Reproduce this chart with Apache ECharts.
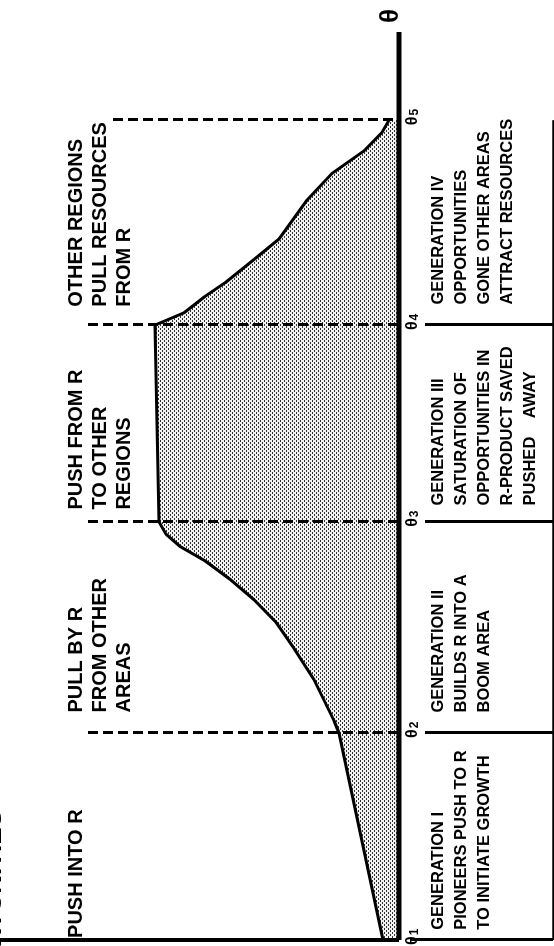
<!DOCTYPE html>
<html>
<head>
<meta charset="utf-8">
<script src="https://cdn.jsdelivr.net/npm/echarts@6/dist/echarts.min.js"></script>
<style>
html, body { margin: 0; padding: 0; background: #fff; overflow: hidden; }
/* the figure is drawn landscape and turned a quarter turn, like the printed page */
#frame {
    position: absolute; left: 0; top: 0;
    width: 946px; height: 554px;
    transform-origin: 0 0;
    transform: translate(0, 946px) rotate(-90deg);
}
</style>
</head>
<body>
<div id="frame"></div>
<script>
// time marks theta 1..5 along the axis
var thetaNames = ['1', '2', '3', '4', '5'];
var thetaPos = [0, 1.01, 2.04, 3.0, 4.0];
var timeEnd = 4.43;

// outline of the shaded area (time, amount)
var curveT = [0, 1.01, 1.07, 1.27, 1.43, 1.55, 1.66, 1.76, 1.85, 1.92, 1.98, 2.04,
    3.0, 3.06, 3.14, 3.21, 3.32, 3.42, 3.61, 3.74, 3.85, 3.94, 4.0];
var curveV = [16, 60, 65, 85, 106, 123, 145, 169, 194, 219, 233, 240,
    244, 215, 194, 173, 145, 120, 92, 67, 35, 17, 10];

var forceLabels = [
    'PUSH INTO R',
    'PULL BY R\nFROM OTHER\nAREAS',
    'PUSH FROM R\nTO OTHER\nREGIONS',
    'OTHER REGIONS\nPULL RESOURCES\nFROM R'
];
var generationNotes = [
    'GENERATION I\nPIONEERS PUSH TO R\nTO INITIATE GROWTH',
    'GENERATION II\nBUILDS R INTO A\nBOOM AREA',
    'GENERATION III\nSATURATION OF\nOPPORTUNITIES IN\nR-PRODUCT SAVED\nPUSHED    AWAY',
    'GENERATION IV\nOPPORTUNITIES\nGONE OTHER AREAS\nATTRACT RESOURCES'
];

// stipple fill
var dots = document.createElement('canvas');
dots.width = 4;
dots.height = 4;
var dctx = dots.getContext('2d');
dctx.fillStyle = '#f2f2f2';
dctx.fillRect(0, 0, 4, 4);
dctx.fillStyle = '#333';
dctx.fillRect(0, 0, 2, 1);
dctx.fillRect(2, 2, 2, 1);
var dotsUrl = dots.toDataURL();

var lines = [];
// base line at theta 1
lines.push([{ coord: [0, 0], lineStyle: { type: 'solid', width: 4 } }, { coord: [0, 399] }]);
for (var i = 1; i < thetaPos.length; i++) {
    lines.push([
        { coord: [thetaPos[i], i == 4 ? 286 : 311], lineStyle: { type: [10, 5], width: 3 } },
        { coord: [thetaPos[i], 0] }
    ]);
}
// table under the axis
for (var i = 0; i < thetaPos.length; i++) {
    var sepStart = i == 0 ? -11 : (i == 4 ? -29 : -26);
    lines.push([
        { coord: [thetaPos[i], sepStart], lineStyle: { type: 'solid', width: 3 } },
        { coord: [thetaPos[i], i == 4 ? -156 : -154] }
    ]);
}
lines.push([{ coord: [0, -154], lineStyle: { type: 'solid', width: 2.5 } }, { coord: [thetaPos[4], -154] }]);

var labelT = [0.01, 1.11, 2.10, 3.09];
var noteT = [0.05, 1.11, 2.12, 3.10];
var texts = [];
forceLabels.forEach(function (s, i) {
    texts.push({
        coord: [labelT[i], 335],
        label: { formatter: s, fontSize: 20, lineHeight: 24 }
    });
});
generationNotes.forEach(function (s, i) {
    texts.push({
        coord: [noteT[i], -27.5],
        label: { formatter: s, fontSize: 16.5, lineHeight: 23 }
    });
});
thetaPos.forEach(function (t, i) {
    texts.push({
        coord: [t, -6],
        label: {
            formatter: '{a|θ}{b|' + thetaNames[i] + '}',
            align: 'left',
            offset: [-5, 0],
            rich: {
                a: { fontSize: 16, lineHeight: 16, fontWeight: 'bold', verticalAlign: 'top' },
                b: { fontSize: 12, lineHeight: 12, fontWeight: 'bold', verticalAlign: 'bottom', padding: [13, 0, 0, 1] }
            }
        }
    });
});
texts.push({
    coord: [timeEnd, 0],
    label: { formatter: 'θ', fontSize: 26, verticalAlign: 'middle', offset: [9, -8] }
});

var chart = echarts.init(document.getElementById('frame'));
chart.setOption({
    animation: false,
    textStyle: {
        fontFamily: 'Liberation Sans, Arial, sans-serif',
        fontWeight: 'bold',
        color: '#000'
    },
    title: {
        text: 'OPPORTUNITIES',
        right: 810,
        top: -19,
        padding: 0,
        textStyle: { fontSize: 26, fontWeight: 'bold', color: '#000' }
    },
    grid: { left: 6, right: 32, top: 0, bottom: 0, containLabel: false, outerBoundsMode: 'none' },
    xAxis: {
        type: 'value',
        min: 0,
        max: timeEnd,
        show: false
    },
    yAxis: {
        type: 'value',
        min: -155,
        max: 399,
        show: false
    },
    series: [{
        type: 'line',
        clip: false,
        symbol: 'none',
        z: 2,
        data: curveT.map(function (t, i) { return [t, curveV[i]]; }),
        lineStyle: { color: '#000', width: 3 },
        areaStyle: { color: { image: dotsUrl, repeat: 'repeat' }, opacity: 1, origin: 0 },
        markLine: {
            silent: true,
            symbol: ['none', 'none'],
            label: { show: false },
            lineStyle: { color: '#000' },
            data: lines
        },
        markPoint: {
            silent: true,
            symbol: 'circle',
            symbolSize: 0,
            itemStyle: { color: 'rgba(0,0,0,0)' },
            label: {
                show: true,
                position: 'inside',
                align: 'left',
                verticalAlign: 'top',
                color: '#000',
                fontWeight: 'bold',
                fontFamily: 'Liberation Sans, Arial, sans-serif'
            },
            data: texts
        }
    }, {
        // the time axis itself, kept above the shading
        type: 'line',
        clip: false,
        symbol: 'none',
        z: 10,
        silent: true,
        data: [[0, 0], [timeEnd, 0]],
        lineStyle: { color: '#000', width: 5 }
    }]
});
</script>
</body>
</html>
